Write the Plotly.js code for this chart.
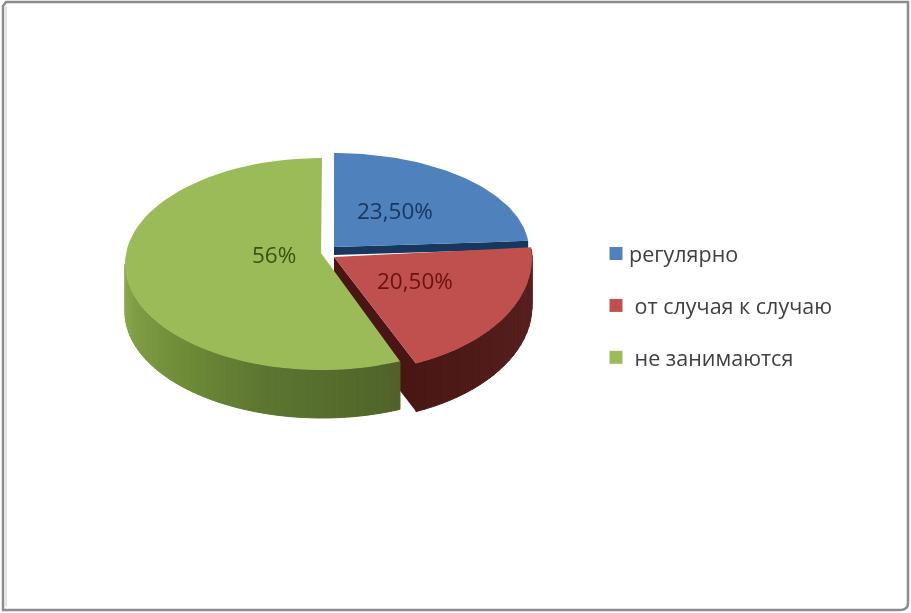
<!DOCTYPE html>
<html>
<head>
<meta charset="utf-8">
<script src="https://cdn.plot.ly/plotly-3.0.1.min.js"></script>
<style>
html,body{margin:0;padding:0;background:#fff;overflow:hidden}
#chart{width:911px;height:613px;filter:blur(0.6px)}
</style>
</head>
<body>
<div id="chart"></div>
<script>
// --- data ---
const categories = ["регулярно", "\u00a0от случая к случаю", "\u00a0не занимаются"];
const shares = [23.5, 20.5, 56];
const dataLabels = ["23,50%", "20,50%", "56%"];

// --- styling and projection ---
const topColors = ["#4F81BD", "#C0504D", "#9BBB59"];
const cutColors = ["#17375E", "#4A1614", "#4F6228"];
const labelColors = ["#17375E", "#6A1210", "#3A5214"];
const depth = 48;
const W = 911, H = 613;
const viewSkew = -0.03; // the tilted view slightly shifts the near boundary
// each exploded slice: its ellipse and apex as seen in the tilted view
const geom = [
  {cx:334, cy:250, rx:195, ry:97,  ax:334, ay:247, d:8},
  {cx:340, cy:258, rx:192, ry:115, ax:334, ay:257, d:depth},
  {cx:322, cy:264, rx:197, ry:106, ax:321, ay:253, d:depth}
];
const labelPos = [[395,210],[415,280],[274,254]];

const total = shares.reduce((a,b)=>a+b,0);
const starts = []; let run = 0;
shares.forEach(s => { starts.push(run/total*2*Math.PI); run += s; });
const ends = starts.map((s,i)=> s + shares[i]/total*2*Math.PI);
const nearEdge = ends[1] + viewSkew;

function pt(g,a){ return [g.cx + g.rx*Math.sin(a), g.cy - g.ry*Math.cos(a)]; }
function arc(g,a0,a1,n){ const o=[]; for(let i=0;i<=n;i++){ o.push(pt(g,a0+(a1-a0)*i/n)); } return o; }
function poly(points,color,width){
  const xs=points.map(p=>p[0]), ys=points.map(p=>p[1]);
  xs.push(xs[0]); ys.push(ys[0]);
  return {type:"scatter",mode:"lines",x:xs,y:ys,fill:"toself",fillcolor:color,
          line:{color:color,width:width||0},hoverinfo:"skip",showlegend:false};
}
function hex(c){return [1,3,5].map(i=>parseInt(c.substr(i,2),16));}
function mix(stops,t){
  let k=0; while(k<stops.length-2 && t>stops[k+1][0]) k++;
  const a=stops[k],b=stops[k+1],u=Math.max(0,Math.min(1,(t-a[0])/(b[0]-a[0])));
  const A=hex(a[1]),B=hex(b[1]);
  return "rgb("+A.map((v,i)=>Math.round(v+(B[i]-v)*u)).join(",")+")";
}
function side(g,a0,a1,stops,n){
  const out=[];
  for(let i=0;i<n;i++){
    const p=pt(g,a0+(a1-a0)*i/n), q=pt(g,a0+(a1-a0)*(i+1)/n);
    const c=mix(stops,(i+.5)/n);
    out.push(poly([p,q,[q[0],q[1]+g.d],[p[0],p[1]+g.d]],c,1));
  }
  return out;
}
function topFace(i,a0,a1){
  const g=geom[i];
  return poly([[g.ax,g.ay]].concat(arc(g,a0,a1,70)),topColors[i]);
}
function cutFace(i,a){
  const g=geom[i], p=pt(g,a);
  return poly([[g.ax,g.ay],p,[p[0],p[1]+g.d],[g.ax,g.ay+g.d]],cutColors[i]);
}

const traces=[];
// blue slice
traces.push(cutFace(0,ends[0]));
traces.push(topFace(0,starts[0],ends[0]));
// red slice
traces.push(cutFace(1,nearEdge));
traces.push(...side(geom[1],starts[1]+0.02,nearEdge,[[0,"#5A2220"],[1,"#4A1715"]],24));
traces.push(topFace(1,starts[1],nearEdge));
// green slice
traces.push(...side(geom[2],nearEdge,Math.PI*1.5,
  [[0,"#4F6329"],[0.35,"#5C7530"],[0.65,"#729039"],[1,"#8BAA4E"]],60));
traces.push(topFace(2,nearEdge,ends[2]));
// legend entries
categories.forEach((c,i)=>traces.push({
  type:"scatter",mode:"markers",x:[null],y:[null],name:c,legendgroup:"g"+i,
  marker:{symbol:"square",size:13,color:topColors[i]},hoverinfo:"skip"
}));

const frame = "M3,6 L6,2 L908,2 L908,603 Q908,610 900,610 L3,610 Z";

const layout={
  width:W,height:H,margin:{l:0,r:0,t:0,b:0},
  paper_bgcolor:"#fff",plot_bgcolor:"#fff",
  xaxis:{visible:false,range:[0,W],fixedrange:true},
  yaxis:{visible:false,range:[H,0],fixedrange:true},
  font:{family:"'Open Sans', sans-serif"},
  legend:{x:596/W,y:1-(233/H),xanchor:"left",yanchor:"top",bgcolor:"rgba(0,0,0,0)",
          font:{size:21.5,color:"#404040",family:"'Open Sans', sans-serif"},
          tracegroupgap:21,itemwidth:30,traceorder:"grouped",indentation:-7},
  shapes:[
    {type:"path",path:frame,line:{color:"#8C8C8C",width:2.5},fillcolor:"rgba(0,0,0,0)",layer:"below"},
    {type:"line",x0:6,x1:6,y0:6,y1:606,line:{color:"#E4E4E4",width:2},layer:"below"}
  ],
  annotations:dataLabels.map((t,i)=>({
    x:labelPos[i][0],y:labelPos[i][1],text:t,showarrow:false,xref:"x",yref:"y",
    font:{size:22.5,color:labelColors[i],family:"'Open Sans', sans-serif"}
  }))
};
Plotly.newPlot("chart",traces,layout,{displayModeBar:false,staticPlot:true}).then(gd=>{
  // the reference's swatches sit closer to their text than the legend's default gap
  gd.querySelectorAll(".legendpoints").forEach(n=>{
    n.setAttribute("transform",(n.getAttribute("transform")||"")+" translate(7,0)");
  });
});
</script>
</body>
</html>
